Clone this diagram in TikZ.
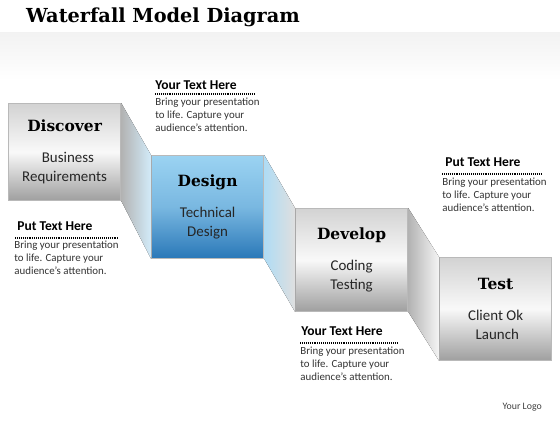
\documentclass[tikz,border=0pt]{standalone}
\usepackage{fontspec}
\setmainfont{Carlito}
\newfontfamily\slab{DejaVu Serif}
\definecolor{dsgtop}{HTML}{9BD3F2}
\definecolor{dsgbot}{HTML}{2A78B8}
\tikzset{
  stagebox/.style={draw=gray!55, line width=0.4pt, anchor=north west,
    minimum width=2.25cm, minimum height=2.06cm, align=center,
    font=\fontsize{8.5}{10.8}\selectfont, text=black!85,
    top color=gray!35, bottom color=gray!75, middle color=gray!5},
  bluebox/.style={stagebox, top color=dsgtop, bottom color=dsgbot,
    middle color=dsgtop!70!dsgbot, text=black!85},
  ribbon/.style={left color=gray!60, right color=gray!8},
  note/.style={anchor=north west, align=left, inner sep=0pt,
    font=\fontsize{6.2}{7.4}\selectfont, text=black!80},
  notehead/.style={anchor=north west, inner sep=0pt,
    font=\bfseries\fontsize{7.7}{9}\selectfont},
  dots/.style={line width=0.9pt, dash pattern=on 0.55pt off 0.55pt}
}
\newcommand{\stagename}[1]{{\slab\bfseries\fontsize{8.8}{10}\selectfont\color{black} #1}\\[7pt]}
\begin{document}
\begin{tikzpicture}[x=0.02cm, y=-0.02cm]
  \useasboundingbox (0,0) rectangle (560,420);
  % header band
  \fill[top color=gray!10, bottom color=white] (0,32) rectangle (560,80);
  \node[anchor=west] (title) at (20,17)
    {\slab\bfseries\fontsize{11}{13}\selectfont Waterfall Model Diagram};

  % stages
  \node[stagebox, minimum height=1.94cm] (discover) at (8,103)
    {\stagename{Discover}\ \ Business\\Requirements};
  \node[bluebox] (design) at (151,155)
    {\stagename{Design}Technical\\Design};
  \node[stagebox] (develop) at (295,208)
    {\stagename{Develop}Coding\\Testing};
  \node[stagebox] (test) at (439,257)
    {\stagename{Test}Client Ok\\\ Launch};

  % ribbons between the stages
  \fill[ribbon, right color=dsgtop!45] (discover.north east) -- (design.north west)
    -- (design.south west) -- (discover.south east) -- cycle;
  \fill[ribbon, left color=dsgtop!80, right color=gray!25] (design.north east) -- (develop.north west)
    -- (develop.south west) -- (design.south east) -- cycle;
  \fill[ribbon] (develop.north east) -- (test.north west)
    -- (test.south west) -- (develop.south east) -- cycle;

  % notes
  \node[notehead] (h1) at (155,80) {Your Text Here};
  \draw[dots] (155,94) -- (255,94);
  \node[note] (n1) at (155,98) {Bring your presentation\\to life. Capture your\\audience’s attention.};

  \node[notehead] (h2) at (17,221) {Put Text Here};
  \draw[dots] (15,238) -- (118,238);
  \node[note] (n2) at (14,241) {Bring your presentation\\to life. Capture your\\audience’s attention.};

  \node[notehead] (h3) at (445,157) {Put Text Here};
  \draw[dots] (442,174) -- (541,174);
  \node[note] (n3) at (442,178) {Bring your presentation\\to life. Capture your\\audience’s attention.};

  \node[notehead] (h4) at (301,326) {Your Text Here};
  \draw[dots] (300,343) -- (398,343);
  \node[note] (n4) at (300,347) {Bring your presentation\\to life. Capture your\\audience’s attention.};

  \node[anchor=east, font=\fontsize{5.6}{7}\selectfont, text=black!75] (logo) at (548,407) {Your Logo};
\end{tikzpicture}
\end{document}
